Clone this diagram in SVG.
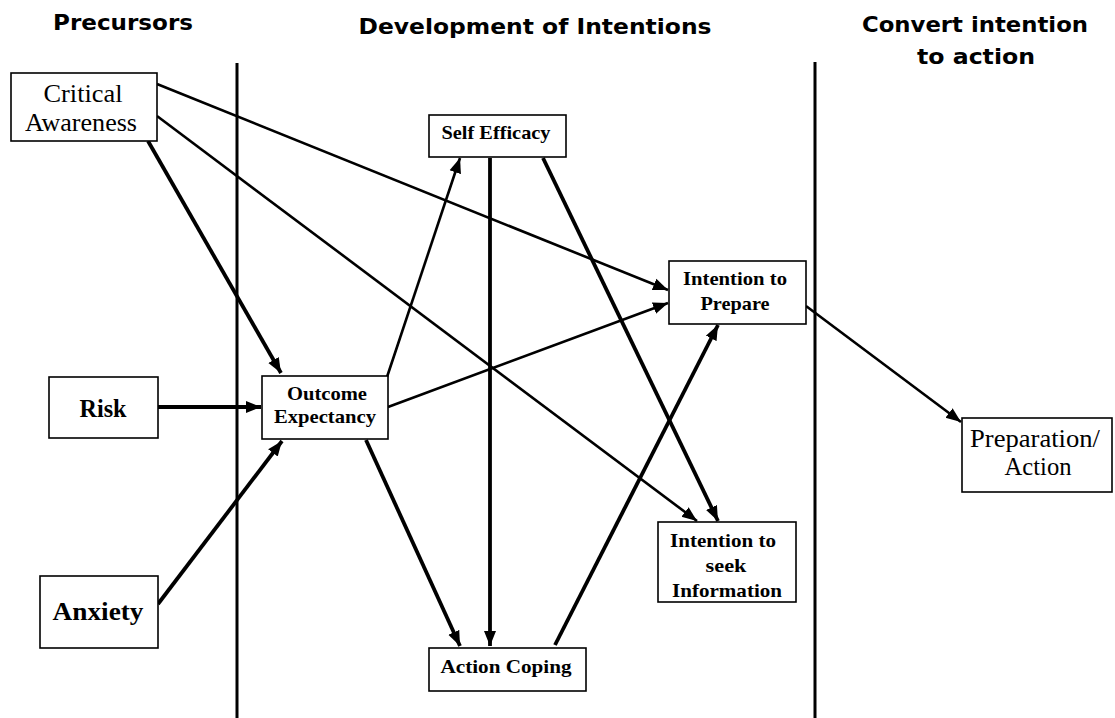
<svg xmlns="http://www.w3.org/2000/svg" width="1115" height="718" viewBox="0 0 1115 718">
<style>
.hdr{font-family:"DejaVu Sans",sans-serif;font-weight:bold;font-size:21px;fill:#000;text-anchor:middle}
.box{fill:#fff;stroke:#000;stroke-width:1.6}
.lbl{font-family:"Liberation Serif","Times New Roman",serif;fill:#000;text-anchor:middle}
.big{font-size:25px}
.sm{font-size:19px;font-weight:bold}
.md{font-size:19px;font-weight:bold}
.ln{stroke:#000;fill:none}
.thin{stroke-width:2.6}
.thick{stroke-width:3.8}
</style>
<defs>
<marker id="ah" markerUnits="userSpaceOnUse" markerWidth="16" markerHeight="14" viewBox="0 0 16 14" refX="15" refY="7" orient="auto">
<path d="M0,1 L15,7 L0,13 Z" fill="#000"/>
</marker>
</defs>
<rect width="1115" height="718" fill="#fff"/>
<g id="headers">
<text class="hdr" x="123" y="30" textLength="140" lengthAdjust="spacingAndGlyphs">Precursors</text>
<text class="hdr" x="535" y="34" textLength="353" lengthAdjust="spacingAndGlyphs">Development of Intentions</text>
<text class="hdr" x="975" y="32" textLength="226" lengthAdjust="spacingAndGlyphs">Convert intention</text>
<text class="hdr" x="976" y="64" textLength="118" lengthAdjust="spacingAndGlyphs">to action</text>
</g>
<g id="dividers">
<line class="ln" x1="237" y1="63" x2="237" y2="718" stroke-width="3"/>
<line class="ln" x1="815" y1="62" x2="815" y2="718" stroke-width="3"/>
</g>
<g id="connectors">
<line class="ln thin" x1="157" y1="84" x2="668" y2="290" marker-end="url(#ah)"/>
<line class="ln thin" x1="157" y1="116" x2="697" y2="521" marker-end="url(#ah)"/>
<line class="ln thick" x1="148" y1="141" x2="281" y2="373" marker-end="url(#ah)"/>
<line class="ln thick" x1="158" y1="407" x2="261" y2="407" marker-end="url(#ah)"/>
<line class="ln thick" x1="158" y1="604" x2="282" y2="441" marker-end="url(#ah)"/>
<line class="ln thin" x1="387" y1="377" x2="460" y2="158" marker-end="url(#ah)"/>
<line class="ln thin" x1="388" y1="407" x2="668" y2="303" marker-end="url(#ah)"/>
<line class="ln thick" x1="366" y1="440" x2="460" y2="646" marker-end="url(#ah)"/>
<line class="ln thick" x1="490" y1="158" x2="490" y2="646" marker-end="url(#ah)"/>
<line class="ln thick" x1="543" y1="158" x2="718" y2="521" marker-end="url(#ah)"/>
<line class="ln thick" x1="555" y1="645" x2="718" y2="325" marker-end="url(#ah)"/>
<line class="ln thin" x1="806" y1="306" x2="961" y2="422" marker-end="url(#ah)"/>
</g>
<g id="critical-awareness">
<rect class="box" x="11" y="73" width="146" height="68"/>
<text class="lbl big" x="83" y="102" textLength="79" lengthAdjust="spacingAndGlyphs">Critical</text>
<text class="lbl big" x="81" y="131" textLength="112" lengthAdjust="spacingAndGlyphs">Awareness</text>
</g>
<g id="risk">
<rect class="box" x="49" y="377" width="109" height="61"/>
<text class="lbl big" x="103" y="417" font-weight="bold" textLength="47" lengthAdjust="spacingAndGlyphs">Risk</text>
</g>
<g id="anxiety">
<rect class="box" x="40" y="576" width="118" height="72"/>
<text class="lbl big" x="98" y="620" font-weight="bold" textLength="91" lengthAdjust="spacingAndGlyphs">Anxiety</text>
</g>
<g id="self-efficacy">
<rect class="box" x="429" y="115" width="137" height="42"/>
<text class="lbl sm" x="496" y="139" textLength="109" lengthAdjust="spacingAndGlyphs">Self Efficacy</text>
</g>
<g id="outcome-expectancy">
<rect class="box" x="262" y="376" width="126" height="63"/>
<text class="lbl sm" x="327" y="400" textLength="80" lengthAdjust="spacingAndGlyphs">Outcome</text>
<text class="lbl sm" x="325" y="423" textLength="102" lengthAdjust="spacingAndGlyphs">Expectancy</text>
</g>
<g id="intention-to-prepare">
<rect class="box" x="669" y="261" width="137" height="63"/>
<text class="lbl sm" x="735" y="285" textLength="104" lengthAdjust="spacingAndGlyphs">Intention to</text>
<text class="lbl sm" x="735" y="310" textLength="69" lengthAdjust="spacingAndGlyphs">Prepare</text>
</g>
<g id="intention-seek-information">
<rect class="box" x="658" y="522" width="138" height="80"/>
<text class="lbl md" x="723" y="547" textLength="106" lengthAdjust="spacingAndGlyphs">Intention to</text>
<text class="lbl md" x="726" y="572" textLength="41" lengthAdjust="spacingAndGlyphs">seek</text>
<text class="lbl md" x="727" y="597" textLength="110" lengthAdjust="spacingAndGlyphs">Information</text>
</g>
<g id="action-coping">
<rect class="box" x="429" y="648" width="157" height="43"/>
<text class="lbl sm" x="506" y="673" textLength="131" lengthAdjust="spacingAndGlyphs">Action Coping</text>
</g>
<g id="preparation-action">
<rect class="box" x="962" y="418" width="150" height="74"/>
<text class="lbl big" x="1035" y="447" textLength="130" lengthAdjust="spacingAndGlyphs">Preparation/</text>
<text class="lbl big" x="1038" y="475" textLength="67" lengthAdjust="spacingAndGlyphs">Action</text>
</g>
</svg>
